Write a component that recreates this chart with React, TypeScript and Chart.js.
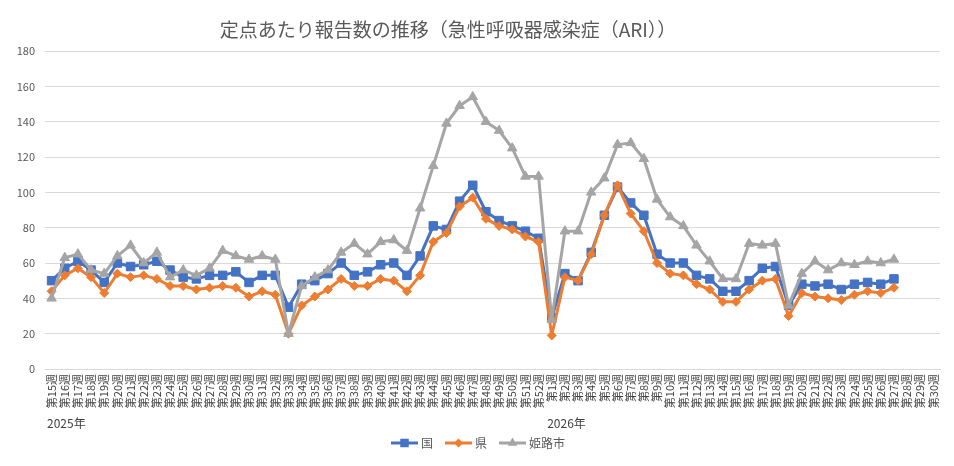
import { useEffect, useRef } from "react";
import { Chart, registerables } from "chart.js";

Chart.register(...registerables);

const FONT = '"Noto Sans CJK JP", "Noto Sans", sans-serif';
const TITLE = "定点あたり報告数の推移（急性呼吸器感染症（ARI））";

// ISO week numbers shown on the category axis
const weeks2025 = [
  15, 16, 17, 18, 19, 20, 21, 22, 23, 24, 25, 26, 27, 28, 29, 30, 31, 32, 33,
  34, 35, 36, 37, 38, 39, 40, 41, 42, 43, 44, 45, 46, 47, 48, 49, 50, 51, 52,
];
const weeks2026 = [
  1, 2, 3, 4, 5, 6, 7, 8, 9, 10, 11, 12, 13, 14, 15, 16, 17, 18, 19, 20, 21,
  22, 23, 24, 25, 26, 27, 28, 29, 30,
];
const yearLabels = ["2025年", "2026年"];
const yearStartIndex = [0, weeks2025.length];

const categories = [
  ...weeks2025.map((w) => `第${w}週`),
  ...weeks2026.map((w) => `第${w}週`),
];

// Reports per sentinel site
const kuni = [
  50, 57, 61, 56, 49, 60, 58, 59, 61, 56, 52, 51, 53, 53, 55, 49, 53, 53, 35,
  48, 50, 54, 60, 53, 55, 59, 60, 53, 64, 81, 79, 95, 104, 89, 84, 81, 78, 74,
  29, 54, 50, 66, 87, 103, 94, 87, 65, 60, 60, 53, 51, 44, 44, 50, 57, 58, 36,
  48, 47, 48, 45, 48, 49, 48, 51, null, null, null,
];
const ken = [
  44, 53, 57, 52, 43, 54, 52, 53, 51, 47, 47, 45, 46, 47, 46, 41, 44, 42, 20,
  36, 41, 45, 51, 47, 47, 51, 50, 44, 53, 72, 77, 92, 97, 85, 81, 79, 75, 72,
  19, 52, 50, 65, 87, 104, 88, 78, 60, 54, 53, 48, 45, 38, 38, 45, 50, 51, 30,
  43, 41, 40, 39, 42, 44, 43, 46, null, null, null,
];
const himeji = [
  40, 63, 65, 56, 54, 64, 70, 60, 66, 52, 56, 53, 57, 67, 64, 62, 64, 62, 20,
  47, 52, 56, 66, 71, 65, 72, 73, 67, 91, 115, 139, 149, 154, 140, 135, 125,
  109, 109, 28, 78, 78, 100, 108, 127, 128, 119, 96, 86, 81, 70, 61, 51, 51, 71,
  70, 71, 36, 54, 61, 56, 60, 59, 61, 60, 62, null, null, null,
];

const seriesNames = ["国", "県", "姫路市"];
const seriesColors = ["#4472C4", "#ED7D31", "#A5A5A5"];
const seriesMarkers = ["rect", "rectRot", "triangle"];
const markerRadius = [6, 4.5, 5.5];

const TEXT = "#595959";

function drawMarker(
  ctx: CanvasRenderingContext2D,
  kind: string,
  x: number,
  y: number,
  r: number
) {
  ctx.beginPath();
  if (kind === "rect") {
    const s = r * Math.SQRT1_2;
    ctx.rect(x - s, y - s, 2 * s, 2 * s);
  } else if (kind === "rectRot") {
    ctx.moveTo(x - r, y);
    ctx.lineTo(x, y - r);
    ctx.lineTo(x + r, y);
    ctx.lineTo(x, y + r);
    ctx.closePath();
  } else {
    ctx.moveTo(x, y - r);
    ctx.lineTo(x + Math.sin((2 * Math.PI) / 3) * r, y + 0.5 * r);
    ctx.lineTo(x - Math.sin((2 * Math.PI) / 3) * r, y + 0.5 * r);
    ctx.closePath();
  }
  ctx.fill();
}

// Title, year captions under the week labels, and the line+marker legend
const overlayPlugin = {
  id: "overlay",
  afterDraw(chart: any) {
    const ctx: CanvasRenderingContext2D = chart.ctx;
    const xs = chart.scales.x;
    ctx.save();

    ctx.fillStyle = TEXT;
    ctx.font = `19px ${FONT}`;
    ctx.textAlign = "center";
    ctx.textBaseline = "middle";
    ctx.fillText(TITLE, 448, 30);

    ctx.font = `12px ${FONT}`;
    ctx.fillStyle = "#404040";
    ctx.textAlign = "left";
    const half = (xs.getPixelForValue(1) - xs.getPixelForValue(0)) / 2;
    yearLabels.forEach((t, k) => {
      ctx.fillText(t, xs.getPixelForValue(yearStartIndex[k]) - half + 2, 423);
    });

    const lineLen = 27;
    const gapText = 3;
    const gapItem = 12;
    const widths = seriesNames.map(
      (n) => lineLen + gapText + ctx.measureText(n).width
    );
    const total =
      widths.reduce((a, b) => a + b, 0) + gapItem * (seriesNames.length - 1);
    let lx = chart.width / 2 - total / 2 + 1;
    const ly = 443;
    seriesNames.forEach((n, k) => {
      ctx.strokeStyle = seriesColors[k];
      ctx.fillStyle = seriesColors[k];
      ctx.lineWidth = 3;
      ctx.beginPath();
      ctx.moveTo(lx, ly);
      ctx.lineTo(lx + lineLen, ly);
      ctx.stroke();
      drawMarker(ctx, seriesMarkers[k], lx + lineLen / 2, ly, markerRadius[k]);
      ctx.fillStyle = TEXT;
      ctx.fillText(n, lx + lineLen + gapText, ly);
      lx += widths[k] + gapItem;
    });

    ctx.restore();
  },
};

export default function App() {
  const canvasRef = useRef<HTMLCanvasElement | null>(null);

  useEffect(() => {
    const canvas = canvasRef.current;
    if (!canvas) return;
    const seriesData = [kuni, ken, himeji];
    const chart = new Chart(canvas, {
      type: "line",
      data: {
        labels: categories,
        datasets: seriesNames.map((name, k) => ({
          label: name,
          data: seriesData[k],
          borderColor: seriesColors[k],
          backgroundColor: seriesColors[k],
          borderWidth: 3,
          pointStyle: seriesMarkers[k] as any,
          pointRadius: markerRadius[k],
          pointBorderWidth: 1,
          pointBackgroundColor: seriesColors[k],
          pointBorderColor: seriesColors[k],
          borderJoinStyle: "round" as const,
          tension: 0,
          spanGaps: false,
          order: 3 - k,
        })),
      },
      options: {
        responsive: false,
        animation: false,
        devicePixelRatio: 1,
        layout: { padding: { top: 51, right: 14, bottom: 0, left: 0 } },
        plugins: {
          legend: { display: false },
          title: { display: false },
          tooltip: { enabled: false },
        },
        scales: {
          x: {
            type: "category",
            offset: true,
            grid: { display: false, drawTicks: false },
            border: { display: true, color: "#D9D9D9" },
            ticks: {
              autoSkip: false,
              minRotation: 90,
              maxRotation: 90,
              padding: 5,
              color: "#404040",
              font: { family: FONT, size: 11 },
            },
            afterFit: (scale: any) => {
              scale.height = 97;
            },
          },
          y: {
            min: 0,
            max: 180,
            ticks: {
              stepSize: 20,
              padding: 10,
              color: TEXT,
              font: { family: FONT, size: 11 },
            },
            grid: { color: "#D9D9D9", lineWidth: 1, drawTicks: false },
            border: { display: false },
            afterFit: (scale: any) => {
              scale.width = 45;
            },
          },
        },
      },
      plugins: [overlayPlugin],
    });
    return () => chart.destroy();
  }, []);

  return (
    <div
      style={{
        position: "absolute",
        left: 0,
        top: 0,
        width: 954,
        height: 466,
        background: "#ffffff",
      }}
    >
      <canvas
        ref={canvasRef}
        width={954}
        height={466}
        style={{ display: "block", width: 954, height: 466 }}
      />
    </div>
  );
}
